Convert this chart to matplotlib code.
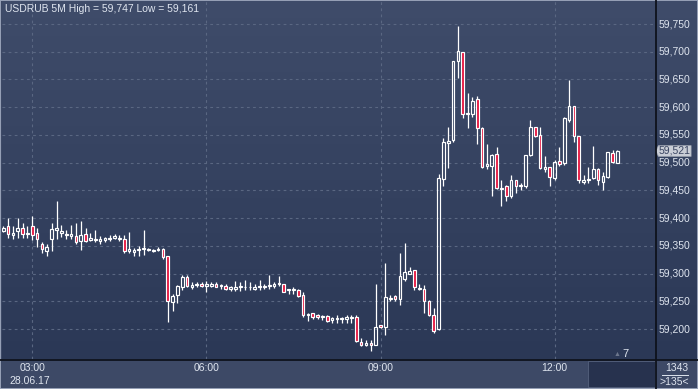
"""
USDRUB 5M candlestick chart, terminal style.
"""
import numpy as np
import pandas as pd
import matplotlib
matplotlib.use("Agg")
import matplotlib.pyplot as plt
import matplotlib.transforms as mtransforms
from matplotlib.colors import LinearSegmentedColormap
from matplotlib.patches import Polygon, Rectangle

plt.rcParams['font.family'] = ['Liberation Sans', 'DejaVu Sans']

# =========================================================
# DATA
# =========================================================
TITLE = "USDRUB 5M High = 59,747 Low = 59,161"
DATE_LABEL = "28.06.17"
LAST_PRICE = 59.521
BAR_COUNT = "1343"
SHIFT_LABEL = ">135<"
MARKER_LABEL = "7"

opens = [59.377, 59.385, 59.370, 59.377, 59.382, 59.374, 59.386, 59.374, 59.353, 59.340,
         59.362, 59.379, 59.374, 59.372, 59.368, 59.368, 59.359, 59.371, 59.361, 59.360,
         59.359, 59.361, 59.362, 59.364, 59.363, 59.362, 59.340, 59.339, 59.343, 59.344,
         59.343, 59.341, 59.343, 59.344, 59.332, 59.249, 59.261, 59.275, 59.293, 59.276,
         59.279, 59.282, 59.278, 59.278, 59.281, 59.278, 59.278, 59.272, 59.272, 59.275,
         59.275, 59.275, 59.272, 59.275, 59.275, 59.277, 59.278, 59.281, 59.281, 59.270,
         59.270, 59.270, 59.261, 59.225, 59.228, 59.225, 59.221, 59.223, 59.216, 59.218,
         59.218, 59.218, 59.219, 59.221, 59.177, 59.172, 59.175, 59.172, 59.207, 59.203,
         59.254, 59.260, 59.254, 59.290, 59.300, 59.306, 59.272, 59.273, 59.251, 59.225,
         59.200, 59.470, 59.535, 59.540, 59.684, 59.699, 59.588, 59.588, 59.614, 59.562,
         59.494, 59.494, 59.515, 59.452, 59.457, 59.439, 59.469, 59.458, 59.457, 59.513,
         59.564, 59.549, 59.488, 59.492, 59.472, 59.503, 59.499, 59.577, 59.602, 59.548,
         59.465, 59.469, 59.472, 59.488, 59.465, 59.474, 59.518, 59.500]
highs = [59.386, 59.400, 59.386, 59.400, 59.391, 59.385, 59.404, 59.382, 59.357, 59.354,
         59.392, 59.431, 59.388, 59.378, 59.388, 59.392, 59.394, 59.382, 59.373, 59.378,
         59.368, 59.366, 59.370, 59.371, 59.370, 59.369, 59.375, 59.346, 59.350, 59.379,
         59.346, 59.344, 59.347, 59.346, 59.332, 59.263, 59.279, 59.297, 59.297, 59.284,
         59.285, 59.285, 59.287, 59.285, 59.284, 59.281, 59.282, 59.278, 59.287, 59.285,
         59.288, 59.285, 59.282, 59.288, 59.282, 59.297, 59.285, 59.296, 59.282, 59.273,
         59.275, 59.273, 59.267, 59.228, 59.228, 59.227, 59.225, 59.225, 59.222, 59.225,
         59.221, 59.225, 59.225, 59.225, 59.183, 59.180, 59.181, 59.282, 59.207, 59.319,
         59.261, 59.261, 59.337, 59.355, 59.311, 59.306, 59.281, 59.279, 59.252, 59.237,
         59.479, 59.544, 59.564, 59.684, 59.747, 59.699, 59.625, 59.619, 59.620, 59.564,
         59.533, 59.515, 59.528, 59.469, 59.460, 59.478, 59.469, 59.463, 59.514, 59.577,
         59.564, 59.564, 59.512, 59.493, 59.505, 59.529, 59.583, 59.649, 59.602, 59.548,
         59.478, 59.493, 59.530, 59.490, 59.484, 59.520, 59.523, 59.523]
lows = [59.375, 59.365, 59.362, 59.365, 59.365, 59.365, 59.361, 59.347, 59.337, 59.332,
        59.340, 59.363, 59.366, 59.363, 59.363, 59.353, 59.343, 59.356, 59.358, 59.356,
        59.353, 59.356, 59.359, 59.362, 59.359, 59.337, 59.337, 59.332, 59.332, 59.334,
        59.341, 59.339, 59.341, 59.326, 59.213, 59.233, 59.246, 59.270, 59.275, 59.273,
        59.276, 59.275, 59.266, 59.275, 59.275, 59.272, 59.270, 59.269, 59.269, 59.269,
        59.270, 59.270, 59.270, 59.270, 59.272, 59.272, 59.274, 59.278, 59.266, 59.264,
        59.263, 59.258, 59.221, 59.215, 59.218, 59.218, 59.216, 59.212, 59.211, 59.211,
        59.210, 59.210, 59.210, 59.177, 59.169, 59.169, 59.161, 59.171, 59.201, 59.189,
        59.251, 59.251, 59.243, 59.287, 59.299, 59.270, 59.270, 59.229, 59.223, 59.193,
        59.199, 59.457, 59.491, 59.538, 59.653, 59.580, 59.562, 59.583, 59.533, 59.490,
        59.489, 59.440, 59.452, 59.422, 59.430, 59.437, 59.446, 59.450, 59.454, 59.512,
        59.547, 59.488, 59.484, 59.457, 59.469, 59.494, 59.496, 59.574, 59.538, 59.463,
        59.462, 59.463, 59.470, 59.460, 59.451, 59.472, 59.499, 59.500]
closes = [59.383, 59.371, 59.374, 59.382, 59.371, 59.371, 59.370, 59.363, 59.345, 59.347,
          59.380, 59.382, 59.377, 59.369, 59.371, 59.356, 59.370, 59.359, 59.364, 59.362,
          59.362, 59.365, 59.365, 59.367, 59.365, 59.340, 59.344, 59.343, 59.345, 59.345,
          59.344, 59.342, 59.344, 59.329, 59.251, 59.260, 59.278, 59.293, 59.278, 59.279,
          59.282, 59.278, 59.281, 59.281, 59.276, 59.279, 59.273, 59.275, 59.275, 59.277,
          59.276, 59.276, 59.276, 59.278, 59.278, 59.279, 59.281, 59.282, 59.267, 59.272,
          59.272, 59.260, 59.225, 59.227, 59.222, 59.221, 59.223, 59.215, 59.219, 59.219,
          59.219, 59.221, 59.221, 59.179, 59.172, 59.174, 59.171, 59.204, 59.203, 59.257,
          59.256, 59.255, 59.296, 59.303, 59.305, 59.275, 59.274, 59.251, 59.225, 59.197,
          59.473, 59.537, 59.539, 59.683, 59.701, 59.588, 59.590, 59.612, 59.562, 59.493,
          59.497, 59.513, 59.454, 59.455, 59.439, 59.469, 59.457, 59.460, 59.513, 59.564,
          59.548, 59.490, 59.493, 59.474, 59.502, 59.497, 59.580, 59.602, 59.548, 59.468,
          59.469, 59.470, 59.488, 59.468, 59.476, 59.519, 59.502, 59.521]

FIRST_BAR = "2017-06-28 02:30"
grid_times = ["03:00", "06:00", "09:00", "12:00"]
grid_prices = [59.20, 59.25, 59.30, 59.35, 59.40, 59.45, 59.50,
               59.55, 59.60, 59.65, 59.70, 59.75]

# =========================================================
# STYLE
# =========================================================
BG_TOP = "#3f4c6a"
BG_BOTTOM = "#2b3856"
STRIP_BG = "#3d4966"
GRID_COLOR = "#5a6782"
TEXT_COLOR = "#dfe5ef"
BEAR_COLOR = "#e5143e"
LINE_DARK = "#0e121c"
FS = 7.5

W, H = 698, 389
fig = plt.figure(figsize=(W / 100, H / 100), dpi=100, facecolor=STRIP_BG)

def px_rect(x0, y0, x1, y1):
    # pixel box (top-left origin) -> figure fraction rect
    return [x0 / W, 1 - y1 / H, (x1 - x0) / W, (y1 - y0) / H]

grad = LinearSegmentedColormap.from_list("bg", [BG_BOTTOM, BG_TOP])

def paint_gradient(a):
    a.imshow(np.linspace(0, 1, 256).reshape(-1, 1), cmap=grad, origin="lower",
             extent=[0, 1, 0, 1], transform=a.transAxes, aspect="auto", zorder=0)

# x positions in 5-minute steps, 03:00 = 0
times = pd.date_range(FIRST_BAR, periods=len(opens), freq="5min")
ref = pd.Timestamp("2017-06-28 03:00")
x = np.asarray((times - ref) / pd.Timedelta("5min"), dtype=float)
o = np.array(opens); h = np.array(highs); l = np.array(lows); c = np.array(closes)

# =========================================================
# MAIN PRICE PANEL
# =========================================================
ax = fig.add_axes(px_rect(2, 0, 655, 359))
paint_gradient(ax)
ax.set_xlim(-6.27, 128.76)
ax.set_ylim(59.1459, 59.7933)
for s in ax.spines.values():
    s.set_visible(False)
ax.set_xticks([]); ax.set_yticks([])

grid_x = [(pd.Timestamp("2017-06-28 " + t) - ref) / pd.Timedelta("5min") for t in grid_times]
for p in grid_prices:
    ax.axhline(p, color=GRID_COLOR, lw=0.8, ls=(0, (2.5, 3)), zorder=1)
for gx in grid_x:
    ax.axvline(gx, color=GRID_COLOR, lw=0.8, ls=(0, (2.5, 3)), zorder=1)

top = np.maximum(o, c)
bot = np.minimum(o, c)
ax.vlines(x, top, h, color="white", lw=0.9, zorder=2)
ax.vlines(x, l, bot, color="white", lw=0.9, zorder=2)
body = np.maximum(top - bot, 0.0012)
bear = c < o
ax.bar(x[~bear], body[~bear], bottom=bot[~bear], width=0.55,
       facecolor="none", edgecolor="white", linewidth=0.85, zorder=3)
ax.bar(x[bear], body[bear], bottom=bot[bear], width=0.55,
       facecolor=BEAR_COLOR, edgecolor="white", linewidth=0.85, zorder=3)

ax.text(0.005, 0.99, TITLE, transform=ax.transAxes, ha="left", va="top",
        color=TEXT_COLOR, fontsize=FS, zorder=5)

# =========================================================
# RIGHT PRICE SCALE
# =========================================================
axr = fig.add_axes(px_rect(655, 0, 698, 359))
paint_gradient(axr)
axr.set_xlim(0, 1)
axr.set_ylim(ax.get_ylim())
axr.set_xticks([]); axr.set_yticks([])
for s in axr.spines.values():
    s.set_visible(False)
for p in grid_prices:
    axr.text(0.08, p, f"{p:.3f}".replace(".", ","), ha="left", va="center",
             color=TEXT_COLOR, fontsize=FS, zorder=3)

tr = mtransforms.blended_transform_factory(axr.transAxes, axr.transData)
half = 0.0098
tag = Polygon([[0.02, LAST_PRICE], [0.08, LAST_PRICE + half], [0.84, LAST_PRICE + half],
               [0.84, LAST_PRICE - half], [0.08, LAST_PRICE - half]],
              closed=True, transform=tr, facecolor="#c9cdd6", edgecolor="#9aa1ae",
              lw=0.5, zorder=4)
axr.add_patch(tag)
axr.text(0.08, LAST_PRICE, f"{LAST_PRICE:.3f}".replace(".", ","), transform=tr,
         ha="left", va="center", color="#3a4562", fontsize=FS, zorder=5)

# =========================================================
# TIME STRIP
# =========================================================
axb = fig.add_axes(px_rect(0, 359, 698, 389))
axb.set_facecolor(STRIP_BG)
axb.set_xlim(0, 1); axb.set_ylim(0, 1)
axb.set_xticks([]); axb.set_yticks([])
for s in axb.spines.values():
    s.set_visible(False)
axb.add_patch(Rectangle((588 / W, 0.08), 67 / W, 0.86, transform=axb.transAxes,
                        facecolor="#27324e", edgecolor="#56627e", lw=0.6))

trb = mtransforms.blended_transform_factory(ax.transData, axb.transAxes)
for gx, t in zip(grid_x, grid_times):
    axb.text(gx, 0.70, t, transform=trb, ha="center", va="center",
             color=TEXT_COLOR, fontsize=FS)
axb.text(grid_x[0] - 0.6, 0.28, DATE_LABEL, transform=trb, ha="center", va="center",
         color=TEXT_COLOR, fontsize=FS)

# bottom-right counters
fig.text(677 / W, 1 - 368 / H, BAR_COUNT, ha="center", va="center",
         color=TEXT_COLOR, fontsize=FS)
fig.add_artist(plt.Line2D([662 / W, 688 / W], [1 - 375 / H, 1 - 375 / H],
                          color=TEXT_COLOR, lw=0.7))
fig.text(674 / W, 1 - 382 / H, SHIFT_LABEL, ha="center", va="center",
         color=TEXT_COLOR, fontsize=FS)

# bars-to-right marker
fig.text(617 / W, 1 - 355 / H, "\u25B2", ha="center", va="center",
         color="#6c768c", fontsize=5)
fig.text(625 / W, 1 - 354 / H, MARKER_LABEL, ha="center", va="center",
         color=TEXT_COLOR, fontsize=8)

# separators and frame
fig.add_artist(plt.Line2D([0, 1], [1 - 359.5 / H, 1 - 359.5 / H], color=LINE_DARK, lw=1.3))
fig.add_artist(plt.Line2D([655.5 / W, 655.5 / W], [0, 1], color=LINE_DARK, lw=1.3))
fig.add_artist(Rectangle((0, 0), 1, 1, transform=fig.transFigure, facecolor="none",
                         edgecolor="#98a2b8", lw=1.4))

fig.savefig("out.png", dpi=100, facecolor=fig.get_facecolor())
plt.close("all")
